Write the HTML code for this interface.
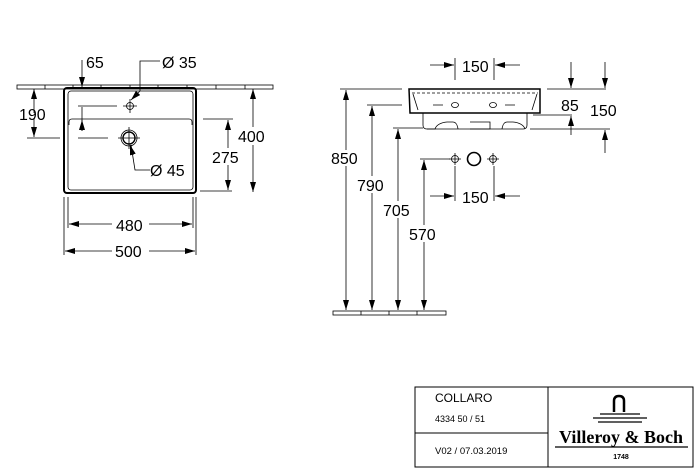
<!DOCTYPE html>
<html><head><meta charset="utf-8"><style>body{margin:0;background:#fff}svg{display:block}</style></head><body>
<svg width="700" height="473" viewBox="0 0 700 473" xmlns="http://www.w3.org/2000/svg" font-family="Liberation Sans, sans-serif" fill="none" stroke="#000">
<defs>
<marker id="a" viewBox="0 0 10 6" refX="10" refY="3" markerWidth="10" markerHeight="6" orient="auto-start-reverse" markerUnits="userSpaceOnUse"><path d="M0,0L10,3L0,6z" fill="#000" stroke="none"/></marker>
</defs>
<g stroke-width="0.8">
<rect x="17" y="85" width="256" height="4"/>
<path d="M45 85v4M73 85v4M101 85v4M130 85v4M158 85v4M187 85v4M216 85v4M245 85v4"/>
<rect x="64" y="88" width="132" height="105" rx="3" stroke-width="2"/>
<rect x="68" y="91" width="125" height="99" rx="3"/>
<path d="M69 125v-3q0-3 3-3h117q3 0 3 3v3"/>
<circle cx="130" cy="106" r="3.5"/><path d="M123 106h14M130 99v14"/>
<circle cx="129" cy="138" r="6" stroke-width="1.4"/><circle cx="129" cy="138" r="8"/><path d="M118 138h22M129 127v22"/>
<path d="M82 60V87" marker-end="url(#a)"/>
<path d="M160 61h-20v30" /><path d="M140 91L131 100" marker-end="url(#a)"/>
<path d="M34 113V89" marker-end="url(#a)"/><path d="M34 118v19" marker-end="url(#a)"/>
<path d="M27 138h33M78 138h30M78 106h39"/>
<path d="M82 131V107"/><path d="M82 131v-11" marker-end="url(#a)"/>
<path d="M131 145l4 25h15"/><path d="M133 155L130 145" marker-end="url(#a)"/>
<path d="M203 119h30M200 191h32"/>
<path d="M228 148V120" marker-end="url(#a)"/><path d="M228 165v25" marker-end="url(#a)"/>
<path d="M253 127V89" marker-end="url(#a)"/><path d="M253 145v47" marker-end="url(#a)"/>
<path d="M68 197v31M193 197v31M64 197v58M196 197v58"/>
<path d="M112 224H69" marker-end="url(#a)"/><path d="M149 224h43" marker-end="url(#a)"/>
<path d="M112 251H65" marker-end="url(#a)"/><path d="M149 251h46" marker-end="url(#a)"/>

<path d="M409 89h131v24H410z" stroke-width="1.5"/>
<path d="M412 93h126" stroke-dasharray="3,2"/>
<path d="M413 94l5 16M537 94l-5 16"/>
<path d="M423 113v12q0 4 4 4h8q2-6 12-7h6q4 0 5 7M470 122h20v7h-20M502 129q1-7 5-7h6q10 1 12 7M523 129q4 0 4-4v-12"/>
<path d="M427 129h96"/>
<ellipse cx="455" cy="105" rx="3.5" ry="2.5"/><ellipse cx="493" cy="105" rx="3.5" ry="2.5"/>
<path d="M433 105h10M505 105h10"/>
<path d="M455 58v22M494 58v22"/>
<path d="M430 65h24" marker-end="url(#a)"/><path d="M520 65h-25" marker-end="url(#a)"/>
<path d="M547 89h59M533 115h39M530 129h80"/>
<path d="M571 62v26" marker-end="url(#a)"/><path d="M571 135v-19" marker-end="url(#a)"/>
<path d="M605 62v26" marker-end="url(#a)"/><path d="M605 153v-23" marker-end="url(#a)"/>
<path d="M340 89h62M367 105h35M393 128h30M420 159h30"/>
<path d="M346 150V90" marker-end="url(#a)"/><path d="M346 166v144" marker-end="url(#a)"/>
<path d="M372 176V106" marker-end="url(#a)"/><path d="M372 193v117" marker-end="url(#a)"/>
<path d="M398 201V129" marker-end="url(#a)"/><path d="M398 218v92" marker-end="url(#a)"/>
<path d="M424 225V160" marker-end="url(#a)"/><path d="M424 242v68" marker-end="url(#a)"/>
<rect x="333" y="311" width="113" height="4"/>
<path d="M361 311v4M389 311v4M417 311v4"/>
<circle cx="455" cy="159" r="3.5"/><path d="M449 159h12M455 153v12"/>
<circle cx="474" cy="159" r="6.5" stroke-width="1.6"/>
<circle cx="493" cy="159" r="3.5"/><path d="M487 159h12M493 153v12"/>
<path d="M455 166v35M494 166v35"/>
<path d="M430 196h24" marker-end="url(#a)"/><path d="M520 196h-25" marker-end="url(#a)"/>
</g>
<g fill="#000" stroke="none" font-size="16">
<text x="86" y="68">65</text>
<text x="162" y="68">Ø 35</text>
<text x="19" y="120">190</text>
<text x="150" y="176">Ø 45</text>
<text x="212" y="163">275</text>
<text x="238" y="142">400</text>
<text x="116" y="231">480</text>
<text x="115" y="257">500</text>
<text x="462" y="72">150</text>
<text x="561" y="111">85</text>
<text x="590" y="116">150</text>
<text x="331" y="164">850</text>
<text x="357" y="191">790</text>
<text x="383" y="216">705</text>
<text x="409" y="240">570</text>
<text x="462" y="203">150</text>
</g>
<g stroke="#000" stroke-width="1" fill="none">
<rect x="415" y="387" width="278" height="80"/>
<path d="M548 387v80M415 433h133"/>
<path d="M614 412v-11q0-5 5-5t5 5v11" stroke-width="2.5"/>
<path d="M600 414h40M593 418h54M598 422h44" stroke-width="1.3"/>
<path d="M555 447h133" stroke-width="1.2"/>
</g>
<g fill="#000" stroke="none" font-family="Liberation Sans, sans-serif">
<text x="435" y="402" font-size="12">COLLARO</text>
<text x="435" y="422" font-size="9">4334 50 / 51</text>
<text x="435" y="454" font-size="9.5">V02 / 07.03.2019</text>
<text x="621" y="443" font-size="18" font-family="Liberation Serif, serif" font-weight="bold" text-anchor="middle">Villeroy &amp; Boch</text>
<text x="621" y="459" font-size="7" font-weight="bold" text-anchor="middle">1748</text>
</g>
</svg>
</body></html>
